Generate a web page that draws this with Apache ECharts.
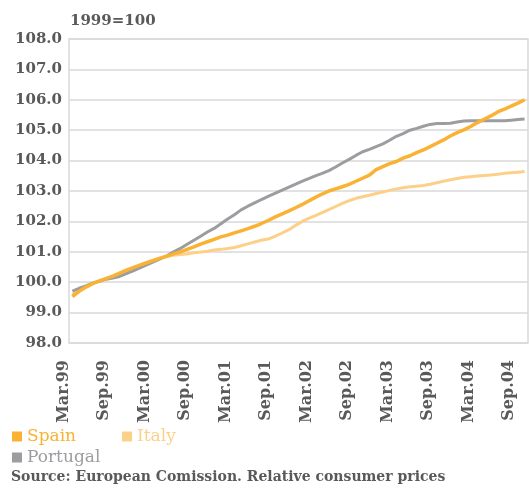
<!DOCTYPE html>
<html>
<head>
<meta charset="utf-8">
<script src="https://cdn.jsdelivr.net/npm/echarts@6/dist/echarts.min.js"></script>
<style>
  html, body { margin: 0; padding: 0; background: #fff; }
  #chart { width: 529px; height: 488px; }
</style>
</head>
<body>
<div id="chart"></div>
<script>
// monthly, Mar.99 .. Oct.04
let months = [
  'Mar.99','Apr.99','May.99','Jun.99','Jul.99','Aug.99','Sep.99','Oct.99','Nov.99','Dec.99',
  'Jan.00','Feb.00','Mar.00','Apr.00','May.00','Jun.00','Jul.00','Aug.00','Sep.00','Oct.00','Nov.00','Dec.00',
  'Jan.01','Feb.01','Mar.01','Apr.01','May.01','Jun.01','Jul.01','Aug.01','Sep.01','Oct.01','Nov.01','Dec.01',
  'Jan.02','Feb.02','Mar.02','Apr.02','May.02','Jun.02','Jul.02','Aug.02','Sep.02','Oct.02','Nov.02','Dec.02',
  'Jan.03','Feb.03','Mar.03','Apr.03','May.03','Jun.03','Jul.03','Aug.03','Sep.03','Oct.03','Nov.03','Dec.03',
  'Jan.04','Feb.04','Mar.04','Apr.04','May.04','Jun.04','Jul.04','Aug.04','Sep.04','Oct.04'
];

let spain = [
  99.53, 99.70, 99.84, 99.95, 100.04, 100.12, 100.20, 100.30, 100.40, 100.48,
  100.56, 100.64, 100.72, 100.79, 100.86, 100.93, 101.00, 101.08, 101.16, 101.25,
  101.33, 101.41, 101.49, 101.55, 101.62, 101.69, 101.76, 101.84, 101.93, 102.03,
  102.14, 102.24, 102.34, 102.44, 102.55, 102.67, 102.79, 102.90, 103.00, 103.07,
  103.14, 103.22, 103.32, 103.42, 103.52, 103.70, 103.80, 103.90, 103.97, 104.08,
  104.16, 104.26, 104.35, 104.46, 104.57, 104.68, 104.81, 104.92, 105.01, 105.12,
  105.25, 105.36, 105.47, 105.60, 105.69, 105.79, 105.89, 106.00
];

let italy = [
  99.60, 99.72, 99.84, 99.95, 100.04, 100.12, 100.19, 100.28, 100.37, 100.46,
  100.55, 100.63, 100.71, 100.78, 100.84, 100.89, 100.91, 100.93, 100.97, 100.99,
  101.02, 101.06, 101.08, 101.11, 101.14, 101.20, 101.26, 101.32, 101.38, 101.42,
  101.51, 101.61, 101.72, 101.86, 101.99, 102.10, 102.19, 102.29, 102.39, 102.49,
  102.59, 102.68, 102.76, 102.81, 102.86, 102.92, 102.97, 103.02, 103.07, 103.11,
  103.14, 103.16, 103.18, 103.22, 103.27, 103.32, 103.37, 103.41, 103.45, 103.47,
  103.49, 103.51, 103.53, 103.55, 103.58, 103.60, 103.62, 103.64
];

let portugal = [
  99.71, 99.80, 99.88, 99.97, 100.03, 100.10, 100.14, 100.19, 100.28, 100.37,
  100.47, 100.57, 100.67, 100.77, 100.87, 101.00, 101.11, 101.25, 101.38, 101.51,
  101.65, 101.77, 101.92, 102.08, 102.22, 102.38, 102.50, 102.61, 102.72, 102.82,
  102.92, 103.02, 103.12, 103.22, 103.32, 103.41, 103.50, 103.58, 103.67, 103.79,
  103.92, 104.04, 104.17, 104.29, 104.37, 104.46, 104.55, 104.67, 104.80, 104.89,
  105.00, 105.06, 105.13, 105.19, 105.22, 105.22, 105.23, 105.27, 105.30, 105.31,
  105.31, 105.31, 105.31, 105.31, 105.31, 105.33, 105.35, 105.37
];

let colors = { spain: '#F9B233', italy: '#FDD08A', portugal: '#9D9DA1' };
let fontFam = '"DejaVu Serif", serif';
let textGrey = '#595959';

let myChart = echarts.init(document.getElementById('chart'));

let option = {
  animation: false,
  grid: {
    left: 69,
    right: 1,
    top: 39,
    bottom: 145,
    show: true,
    borderColor: '#d9d9d9',
    borderWidth: 1.5
  },
  graphic: [
    {
      type: 'text',
      left: 70,
      top: 14,
      style: { text: '1999=100', fill: textGrey, font: 'bold 15px ' + fontFam }
    },
    {
      type: 'text',
      left: 11,
      top: 470,
      style: { text: 'Source: European Comission. Relative consumer prices', fill: textGrey, font: 'bold 14px ' + fontFam }
    }
  ],
  legend: [{
    left: 12,
    top: 428,
    icon: 'rect',
    itemWidth: 10,
    itemHeight: 10,
    itemGap: 46,
    padding: 0,
    textStyle: { fontFamily: fontFam, fontSize: 17 },
    data: [
      { name: 'Spain', textStyle: { color: colors.spain } },
      { name: 'Italy', textStyle: { color: colors.italy } }
    ]
  }, {
    left: 12,
    top: 449,
    icon: 'rect',
    itemWidth: 10,
    itemHeight: 10,
    padding: 0,
    textStyle: { fontFamily: fontFam, fontSize: 17 },
    data: [
      { name: 'Portugal', textStyle: { color: colors.portugal } }
    ]
  }],
  xAxis: {
    type: 'category',
    data: months,
    boundaryGap: true,
    axisLine: { show: false },
    axisTick: { show: false },
    splitLine: { show: false },
    axisLabel: {
      interval: 5,
      rotate: 90,
      margin: 17,
      verticalAlign: 'bottom',
      lineHeight: 18,
      color: textGrey,
      fontFamily: fontFam,
      fontWeight: 'bold',
      fontSize: 16
    }
  },
  yAxis: {
    type: 'value',
    min: 98,
    max: 108,
    interval: 1,
    axisLine: { show: false },
    axisTick: { show: false },
    splitLine: { lineStyle: { color: '#d9d9d9', width: 1.5 } },
    axisLabel: {
      margin: 7,
      color: textGrey,
      fontFamily: fontFam,
      fontWeight: 'bold',
      fontSize: 15,
      formatter: function (v) { return v.toFixed(1); }
    }
  },
  series: [
    {
      name: 'Spain', type: 'line', data: spain, z: 4,
      symbol: 'none', color: colors.spain,
      lineStyle: { width: 3.5, color: colors.spain }
    },
    {
      name: 'Italy', type: 'line', data: italy, z: 2,
      symbol: 'none', color: colors.italy,
      lineStyle: { width: 3, color: colors.italy }
    },
    {
      name: 'Portugal', type: 'line', data: portugal, z: 3,
      symbol: 'none', color: colors.portugal,
      lineStyle: { width: 3, color: colors.portugal }
    }
  ]
};

myChart.setOption(option);
</script>
</body>
</html>
